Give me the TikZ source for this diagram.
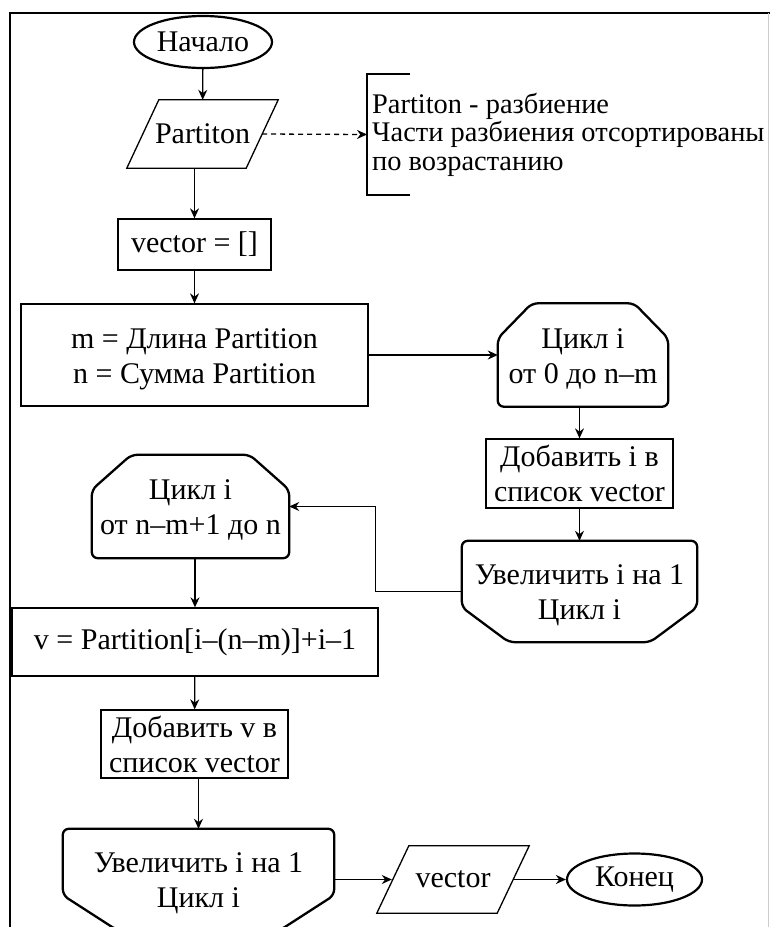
\documentclass[tikz,border=0pt]{standalone}
\usepackage{fontspec}
\setmainfont{Liberation Serif}
\usetikzlibrary{arrows.meta,calc,shapes.geometric}
\tikzset{
	block/.style={
		draw,
		line width = 1.3pt,
		inner sep = 0pt,
		align = center
	},
	plain/.style={
		inner sep = 0pt,
		align = center
	},
	low/.style={
		text height = 66.8pt,
		text depth = 10pt
	},
	term/.style={
		draw,
		shape = ellipse,
		line width = 2.2pt,
		inner sep = 0pt
	},
	bold/.style={
		line width = 2.3pt,
		rounded corners = 6pt
	},
	flow/.style={
		line width = 1.3pt,
		->
	},
}
\tikzset{>={Stealth[length=10pt,width=9pt]}}

\begin{document}
\begin{tikzpicture}[x=1pt, y=-1pt, font=\fontsize{30pt}{35pt}\selectfont]
    \clip (0,0) rectangle (770,927);
    % frame
    \draw[line width=1.5pt] (10,927) -- (10,13) -- (770,13);
    \draw[gray!40, line width=1pt] (768.5,13) -- (768.5,927);

    \node[term, minimum width=138pt, minimum height=52pt] (start) at (203,42) {Начало};
    \node[plain, minimum width=151pt, minimum height=68pt] (inp) at (202.5,134) {Partiton};
    \node[block, minimum width=153pt, minimum height=51pt] (vec) at (194.5,244.5) {vector = []};
    \node[block, low, minimum width=347pt, minimum height=102pt] (init) at (194.5,355) {m = Длина Partition\\n = Сумма Partition};
    \node[plain, low, minimum width=170pt, minimum height=103pt] (c1) at (583,355) {Цикл i\\от 0 до n–m};
    \node[block, minimum width=187pt, minimum height=69pt] (add1) at (579.5,473.5) {Добавить i в\\список vector};
    \node[plain, low, minimum width=235pt, minimum height=101pt] (e1) at (579.5,591.5) {Увеличить i на 1\\Цикл i};
    \node[plain, low, minimum width=197pt, minimum height=103pt] (c2) at (190.5,506.5) {Цикл i\\от n–m+1 до n};
    \node[block, minimum width=366pt, minimum height=68pt] (vcalc) at (195,642) {v = Partition[i–(n–m)]+i–1};
    \node[block, minimum width=187pt, minimum height=68pt] (add2) at (194.5,744) {Добавить v в\\список vector};
    \node[plain, low, minimum width=271pt, minimum height=101pt] (e2) at (198.5,879.5) {Увеличить i на 1\\Цикл i};
    \node[plain, minimum width=152pt, minimum height=67pt] (out) at (453,879.5) {vector};
    \node[term, minimum width=135pt, minimum height=52pt] (stop) at (634.5,879.5) {Конец};
    \node[plain, align=left, anchor=west, inner xsep=5pt, minimum height=121pt,
      font=\fontsize{28.4pt}{28.5pt}\selectfont] (note) at (367,134.5)
      {Partiton - разбиение\\Части разбиения отсортированы\\по возрастанию};

    % outlines
    \foreach \n in {inp,out}{
      \draw[line width=1.3pt] ([xshift=32pt]\n.north west) -- (\n.north east)
        -- ([xshift=-32pt]\n.south east) -- (\n.south west) -- cycle;
    }
    \foreach \n in {c1,c2}{
      \draw[bold] ([yshift=-35pt]\n.north west) -- ($(\n.north west)!0.2!(\n.north east)$)
        -- ($(\n.north east)!0.2!(\n.north west)$) -- ([yshift=-35pt]\n.north east)
        -- (\n.south east) -- (\n.south west) -- cycle;
    }
    \foreach \n in {e1,e2}{
      \draw[bold] (\n.north west) -- (\n.north east) -- ([yshift=35pt]\n.south east)
        -- ($(\n.south east)!0.2!(\n.south west)$) -- ($(\n.south west)!0.2!(\n.south east)$)
        -- ([yshift=35pt]\n.south west) -- cycle;
    }
    \draw[line width=2.3pt] ([xshift=43pt]note.north west) -- (note.north west)
      -- (note.south west) -- ([xshift=43pt]note.south west);

    % connectors
    \draw[flow] (start) -- (inp);
    \draw[flow, dash pattern=on 5pt off 4pt] ([xshift=-16pt]inp.east) -- (note.west);
    \draw[flow] (inp.south -| vec.north) -- (vec);
    \draw[flow] (vec) -- (init);
    \draw[flow] (init) -- (c1);
    \draw[flow] (c1.south -| add1.north) -- (add1);
    \draw[flow] (add1) -- (e1);
    \draw[flow] (e1.west) -- ++(-86,0) |- (c2.east);
    \draw[flow] (c2.south -| vcalc.north) -- (vcalc);
    \draw[flow] (vcalc) -- (add2);
    \draw[flow] (add2.south -| e2.north) -- (e2);
    \draw[flow] (e2.east) -- ([xshift=15pt]out.west);
    \draw[flow] ([xshift=-15pt]out.east) -- (stop);
\end{tikzpicture}
\end{document}
